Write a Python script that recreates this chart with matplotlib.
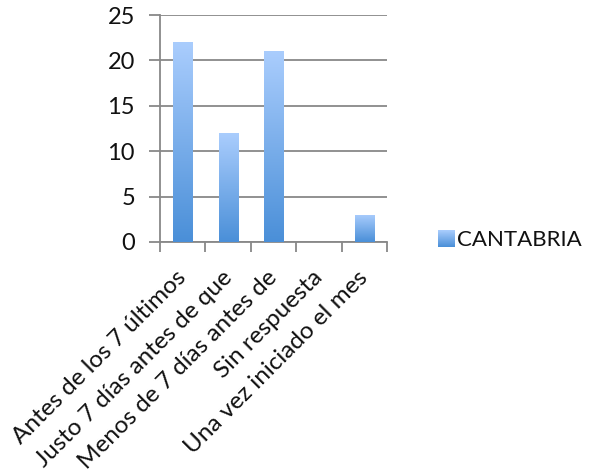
import numpy as np
import matplotlib
matplotlib.use("Agg")
import matplotlib.pyplot as plt
import matplotlib.transforms as mtransforms
from matplotlib.colors import LinearSegmentedColormap

categories = [
    "Antes de los 7 últimos",
    "Justo 7 días antes de que",
    "Menos de 7 días antes de",
    "Sin respuesta",
    "Una vez iniciado el mes",
]
values = [22, 12, 21, 0, 3]
series_name = "CANTABRIA"
yticks = [0, 5, 10, 15, 20, 25]

plt.rcParams["font.family"] = ["Lato", "DejaVu Sans"]

fig = plt.figure(figsize=(5.96, 4.75), dpi=100)
ax = fig.add_axes([160 / 596, 1 - 242 / 475, 227 / 596, 227 / 475])

grad = LinearSegmentedColormap.from_list("bar", ["#4a8fd8", "#aacdfd"])
x = np.arange(len(categories))
bars = ax.bar(x, values, width=0.42, color="none", edgecolor="none", zorder=3)
for b in bars:
    h = b.get_height()
    if h <= 0:
        continue
    x0 = b.get_x()
    w = b.get_width()
    img = np.linspace(0, 1, 256).reshape(-1, 1)
    im = ax.imshow(img, cmap=grad, origin="lower", aspect="auto",
                   extent=(x0, x0 + w, 0, h), zorder=3)
    im.set_clip_path(b)

ax.set_xlim(-0.5, len(categories) - 0.5)
ax.set_ylim(0, 25)
ax.set_yticks(yticks)
ax.yaxis.grid(True, color="#888888", linewidth=1.3)
ax.set_axisbelow(True)
for s in ["top", "right"]:
    ax.spines[s].set_visible(False)
for s in ["left", "bottom"]:
    ax.spines[s].set_color("#888888")
    ax.spines[s].set_linewidth(1.3)

ax.set_xticks(np.arange(len(categories) + 1) - 0.5, minor=True)
ax.set_xticks(x)
ax.tick_params(axis="x", which="major", length=0, pad=18)
ax.tick_params(axis="x", which="minor", length=7, color="#888888", width=1.3)
ax.tick_params(axis="y", length=8, color="#888888", width=1.3, labelsize=17,
               pad=10, labelcolor="#111111")
ax.set_xticklabels(categories, rotation=45, ha="right", rotation_mode="anchor",
                   fontsize=17.5, color="#111111")
shift = mtransforms.ScaledTranslation(-7 / 100, 0, fig.dpi_scale_trans)
for lbl in ax.get_xticklabels():
    lbl.set_transform(lbl.get_transform() + shift)
ax.set_xlim(-0.5, len(categories) - 0.5)

# legend swatch with gradient and series name
lax = fig.add_axes([438 / 596, 1 - 247 / 475, 17 / 596, 17 / 475])
lax.imshow(np.linspace(0, 1, 64).reshape(-1, 1), cmap=grad, origin="lower",
           aspect="auto")
lax.axis("off")
fig.text(457 / 596, 1 - 240 / 475, series_name, fontsize=16, va="center",
         ha="left", color="#111111")

fig.savefig("out.png", dpi=100)
